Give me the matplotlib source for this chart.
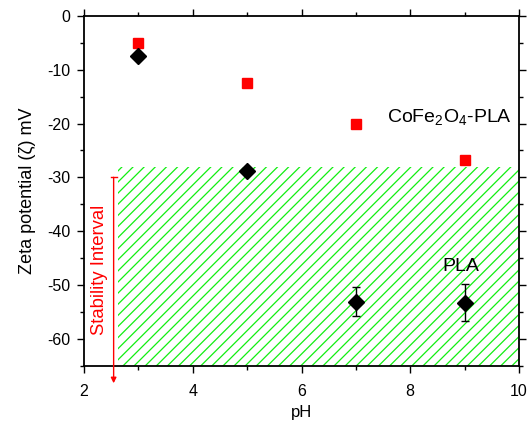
import matplotlib
matplotlib.use("Agg")
import matplotlib.pyplot as plt
from matplotlib.patches import Rectangle
from matplotlib.ticker import MultipleLocator

plt.rcParams['font.family'] = ['Liberation Sans', 'DejaVu Sans']
plt.rcParams['hatch.linewidth'] = 0.9
plt.rcParams['axes.unicode_minus'] = False
plt.rcParams['mathtext.fontset'] = 'custom'
plt.rcParams['mathtext.rm'] = 'Liberation Sans'

ph = [3, 5, 7, 9]
cofe_pla = [-5.0, -12.4, -20.1, -26.8]
pla = [-7.4, -28.8, -53.1, -53.3]
pla_err = [0, 0, 2.7, 3.5]

fig = plt.figure(figsize=(5.28, 4.21), dpi=100)
ax = fig.add_axes([84/528, 1-365.5/421, (519-84)/528, (365.5-16)/421])

ax.set_xlim(2, 10)
ax.set_ylim(-65, 0)

# hatched stability region
rect = Rectangle((2.625, -65), 10-2.625, 65-28.0, facecolor='none',
                 edgecolor='#11ee11', hatch='///', linewidth=0, zorder=1)
ax.add_patch(rect)

ax.plot(ph, cofe_pla, linestyle='none', marker='s', color='#ff0000',
        markersize=7, zorder=3)
ax.errorbar(ph, pla, yerr=pla_err, fmt='D', color='black', markersize=8,
            ecolor='black', elinewidth=1, capsize=3, capthick=1, zorder=4)

# red arrow
ax.annotate('', xy=(2.545, -68.3), xytext=(2.545, -30),
            xycoords='data', annotation_clip=False,
            arrowprops=dict(arrowstyle='-|>', color='red', lw=1,
                            mutation_scale=8, shrinkA=0, shrinkB=0))
ax.plot([2.49, 2.60], [-30, -30], color='red', lw=1, clip_on=False)
ax.text(2.29, -47.2, 'Stability Interval', rotation=90, color='red',
        fontsize=13.3, ha='center', va='center')

ax.text(7.58, -18.9, r'CoFe$_\mathrm{2}$O$_\mathrm{4}$-PLA', fontsize=14, ha='left', va='center')
ax.text(8.6, -46.5, 'PLA', fontsize=14, ha='left', va='center')

ax.xaxis.set_major_locator(MultipleLocator(2))
ax.xaxis.set_minor_locator(MultipleLocator(1))
ax.yaxis.set_major_locator(MultipleLocator(10))
ax.yaxis.set_minor_locator(MultipleLocator(5))
ax.tick_params(which='both', direction='out', top=True, right=True,
               labeltop=False, labelright=False, width=1, labelsize=11.5)
ax.tick_params(which='major', length=5)
ax.tick_params(axis='x', which='major', pad=8)
ax.tick_params(axis='y', which='major', pad=5)
ax.tick_params(which='minor', length=3)
for s in ax.spines.values():
    s.set_linewidth(1.3)

ax.set_xlabel('pH', fontsize=12, labelpad=5)
ax.set_ylabel('Zeta potential (ζ) mV', fontsize=13, labelpad=8)

fig.savefig('out.png', dpi=100)
